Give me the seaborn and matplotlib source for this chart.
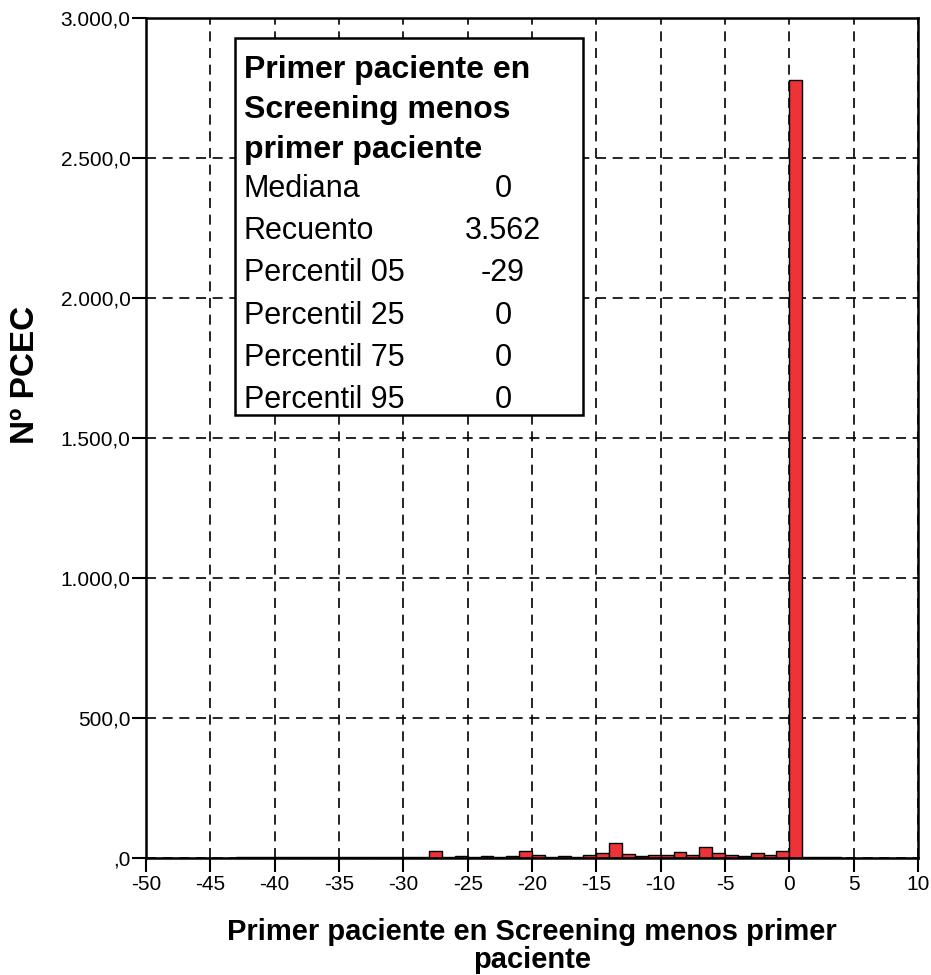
import numpy as np
import pandas as pd
import matplotlib
matplotlib.use('Agg')
import matplotlib.pyplot as plt
import seaborn as sns
from matplotlib.patches import Rectangle

# histogram counts per 1-day bin (bin start -> count)
bin_starts = list(range(-50, 10))
counts = [1, 1, 1, 1, 1, 0, 1, 2, 3, 5,
          2, 2, 2, 2, 3, 5, 5, 4, 3, 4,
          5, 2, 25, 3, 8, 5, 8, 3, 8, 25,
          12, 4, 7, 4, 12, 19, 54, 14, 6, 11,
          11, 20, 12, 40, 19, 12, 7, 19, 11, 26,
          2780, 4, 2, 2, 1, 1, 1, 1, 1, 1]

x_ticks = list(range(-50, 11, 5))
y_ticks = [0, 500, 1000, 1500, 2000, 2500, 3000]
y_tick_labels = [',0', '500,0', '1.000,0', '1.500,0', '2.000,0', '2.500,0', '3.000,0']

box_title = ['Primer paciente en', 'Screening menos', 'primer paciente']
stat_names = ['Mediana', 'Recuento', 'Percentil 05', 'Percentil 25', 'Percentil 75', 'Percentil 95']
stat_values = ['0', '3.562', '-29', '0', '0', '0']

# bin centre so each value falls in its own bin
df = pd.DataFrame({'dias': np.array(bin_starts) + 0.5, 'n': counts})

sns.set_style('white')
plt.rcParams['font.family'] = ['Liberation Sans', 'DejaVu Sans']
plt.rcParams.update({'text.color': 'black', 'axes.labelcolor': 'black',
                     'xtick.color': 'black', 'ytick.color': 'black'})

fig = plt.figure(figsize=(9.31, 9.75), dpi=100)
ax = fig.add_axes([146 / 931, 1 - 858 / 975, 772 / 931, 840 / 975])

sns.histplot(data=df, x='dias', weights='n', binwidth=1, binrange=(-50, 10),
             color='#ee3338', alpha=1, edgecolor='black', linewidth=1, ax=ax)

ax.set_xlim(-50, 10)
ax.set_ylim(0, 3000)
ax.set_xticks(x_ticks)
ax.set_xticklabels([str(t) for t in x_ticks], fontsize=15)
ax.set_yticks(y_ticks)
ax.set_yticklabels(y_tick_labels, fontsize=15)
ax.tick_params(axis='x', bottom=True, direction='out', length=10, width=1.5, pad=2)
ax.tick_params(axis='y', left=True, direction='out', length=10, width=1.5, pad=1)

ax.set_axisbelow(True)
ax.grid(True, color='black', linestyle=(0, (6, 4)), linewidth=1.2)
for s in ax.spines.values():
    s.set_color('black')
    s.set_linewidth(1.8)

ax.set_xlabel('Primer paciente en Screening menos primer\npaciente',
              fontsize=21, fontweight='bold', linespacing=1.0)
ax.xaxis.set_label_coords(0.5, (858 - 918) / 840)
ax.set_ylabel('Nº PCEC', fontsize=24, fontweight='bold')
ax.yaxis.label.set_va('center')
ax.yaxis.set_label_coords((25 - 146) / 772, (858 - 375) / 840)

# statistics box
def ya(py):
    return (858 - py) / 840

def xa(px):
    return (px - 146) / 772

ax.add_patch(Rectangle((xa(235), ya(415)), xa(583) - xa(235), ya(38) - ya(415),
                       transform=ax.transAxes, facecolor='white', edgecolor='black',
                       linewidth=1.8, zorder=5))
for i, line in enumerate(box_title):
    ax.text(xa(244), ya(78 + 40 * i), line, transform=ax.transAxes, fontsize=23,
            fontweight='bold', va='baseline', ha='left', zorder=6)
for i, (name, val) in enumerate(zip(stat_names, stat_values)):
    yy = ya(197 + 42.2 * i)
    ax.text(xa(244), yy, name, transform=ax.transAxes, fontsize=22,
            va='baseline', ha='left', zorder=6)
    ax.text(xa(503), yy, val, transform=ax.transAxes, fontsize=22,
            va='baseline', ha='center', zorder=6)

fig.savefig('out.png', dpi=100)
